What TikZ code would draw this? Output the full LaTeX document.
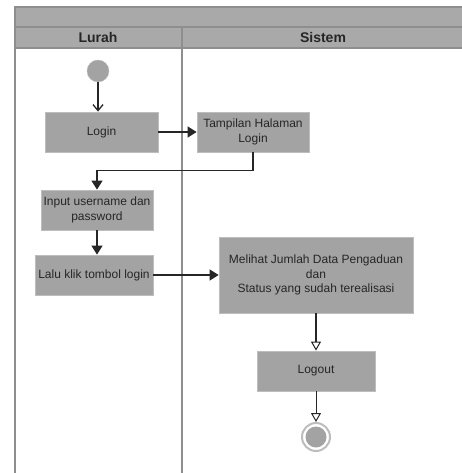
\documentclass[tikz,border=0pt]{standalone}
\usepackage{fontspec}
\setmainfont{Liberation Sans}
\usetikzlibrary{positioning,arrows.meta}
\definecolor{boxgray}{HTML}{A3A3A3}
\definecolor{headgray}{HTML}{A9A9A9}
\definecolor{linegray}{HTML}{8E8E8E}
\definecolor{edgegray}{HTML}{BDBDBD}
\definecolor{inkgray}{HTML}{262626}

\tikzset{
	act/.style={draw=edgegray, line width=0.8pt, fill=boxgray, align=center,
		minimum height=40pt, inner sep=2pt, text=inkgray,
		font=\fontsize{12}{14.5}\selectfont},
	lane/.style={draw=linegray, line width=1.6pt},
	flow/.style={draw=inkgray, line width=1.3pt, -{Triangle[length=9pt,width=11pt]}},
	openflow/.style={draw=inkgray, line width=1pt,
		-{Triangle[open,length=9pt,width=10pt,line width=1pt]}}
}

\begin{document}
\begin{tikzpicture}[x=1pt, y=-1pt]
	\useasboundingbox (0,0) rectangle (462,473);
	% swimlanes
	\def \l{15}
	\def \m{182}
	\def \r{462}
	\fill[headgray] (\l,7) rectangle (\r,48);
	\draw[lane] (\r,7) -- (\l,7) -- (\l,473);
	\draw[lane] (\l,27) -- (\r,27);
	\draw[lane] (\l,48) -- (\r,48);
	\draw[lane] (\m,27) -- (\m,473);
	\node[font=\bfseries\fontsize{14}{16}\selectfont, text=inkgray] (lurah) at (98,37.5) {Lurah};
	\node[font=\bfseries\fontsize{14}{16}\selectfont, text=inkgray] (sistem) at (323,37.5) {Sistem};

	% activities
	\node[circle, fill=boxgray, draw=edgegray, minimum size=22pt, inner sep=0] (start) at (98,71) {};
	\node[act, minimum width=113pt] (login) at (101.5,132) {Login};
	\node[act, minimum width=112pt] (tampil) at (253,132) {Tampilan Halaman\\Login};
	\node[act, minimum width=112pt] (input) at (97,210) {Input username dan\\password};
	\node[act, minimum width=118pt] (lalu) at (94,275) {Lalu klik tombol login};
	\node[act, minimum width=194pt, minimum height=76pt] (lihat) at (316,275)
		{Melihat Jumlah Data Pengaduan\\dan\\Status yang sudah terealisasi};
	\node[act, minimum width=118pt] (logout) at (316,371) {Logout};
	\node[circle, fill=white, draw=edgegray, line width=2pt, minimum size=28pt, inner sep=0] (stop) at (316,437) {};
	\node[circle, fill=boxgray, minimum size=21pt, inner sep=0] (stopdot) at (stop) {};

	% flows
	\draw[draw=inkgray, line width=1.3pt, -{Straight Barb[length=6pt,width=10pt]}] (start) -- (start |- login.north);
	\draw[flow] (login) -- (tampil);
	\draw[flow] (tampil.south) -- ++(0,18) -| (input.north);
	\draw[flow] (input.south) -- (input.south |- lalu.north);
	\draw[flow] (lalu) -- (lihat);
	\draw[openflow, line width=2.4pt] (lihat.south) -- (logout.north);
	\draw[openflow] (logout) -- (stop);
\end{tikzpicture}
\end{document}
